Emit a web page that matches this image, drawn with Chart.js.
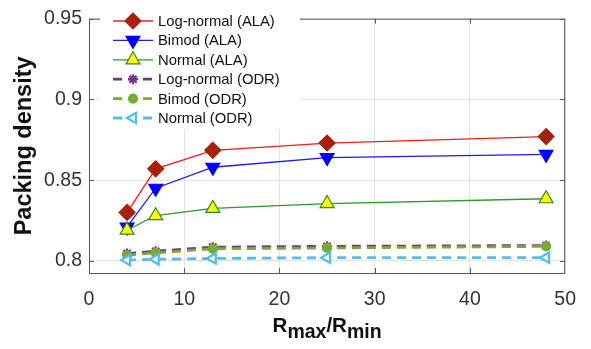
<!DOCTYPE html>
<html>
<head>
<meta charset="utf-8">
<script src="https://cdn.jsdelivr.net/npm/chart.js@4.4.0/dist/chart.umd.min.js"></script>
<style>
  html, body { margin: 0; padding: 0; background: #fff; }
</style>
</head>
<body>
<canvas id="myChart" width="591" height="349"></canvas>
<script>
// R_max / R_min values
const ratios = [4, 7, 13, 25, 48];

// packing density per series
const logNormalAla = [0.830, 0.857, 0.8685, 0.873, 0.877];
const bimodAla     = [0.821, 0.845, 0.858, 0.864, 0.866];
const normalAla    = [0.819, 0.828, 0.8325, 0.8355, 0.8385];
const logNormalOdr = [0.8045, 0.806, 0.8085, 0.809, 0.8095];
const bimodOdr     = [0.8035, 0.805, 0.8075, 0.808, 0.809];
const normalOdr    = [0.8005, 0.801, 0.8015, 0.802, 0.802];

const xTicks = [0, 10, 20, 30, 40, 50];
const yTicks = [0.8, 0.85, 0.9, 0.95];

const labels = ['Log-normal (ALA)', 'Bimod (ALA)', 'Normal (ALA)',
                'Log-normal (ODR)', 'Bimod (ODR)', 'Normal (ODR)'];

const FONT = '"Liberation Sans", Arial, sans-serif';
const toPoints = vals => ratios.map((r, i) => ({ x: r, y: vals[i] }));

function serie(i, vals, line, fill, border, style, radius, rot, dashed) {
    return {
        label: labels[i],
        data: toPoints(vals),
        order: 10 - i, // later series drawn on top, like matlab
        borderColor: line,
        borderWidth: dashed ? 2.8 : 1.3,
        borderDash: dashed ? [9, 6] : [],
        pointStyle: style,
        pointRadius: radius,
        pointRotation: rot,
        pointBackgroundColor: fill,
        pointBorderColor: border,
        pointBorderWidth: dashed ? 2.2 : 1.2,
        fill: false,
        tension: 0
    };
}

const datasets = [
    serie(0, logNormalAla, '#ff1a1a', '#a8200e', '#a8200e', 'rectRot', 8, 0, false),
    serie(1, bimodAla, '#1a1aff', '#0000ff', '#0000ff', 'triangle', 8, 180, false),
    serie(2, normalAla, '#2a9a2a', '#ffff00', '#2a8a1a', 'triangle', 8, 0, false),
    serie(3, logNormalOdr, '#7e2f8e', '#7e2f8e', '#7e2f8e', 'star', 5, 0, true),
    serie(4, bimodOdr, '#77ac30', '#77ac30', '#77ac30', 'circle', 4, 0, true),
    serie(5, normalOdr, '#4dbeee', '#ffffff', '#4dbeee', 'triangle', 6, -90, true)
];

// frame, inner ticks, legend and x title with subscripts
const extras = {
    id: 'extras',
    afterDatasetsDraw(chart) {
        const c = chart.ctx;
        const a = chart.chartArea;
        const xs = chart.scales.x, ys = chart.scales.y;
        c.save();
        c.strokeStyle = '#5a5a5a';
        c.lineWidth = 1;
        c.setLineDash([]);
        c.strokeRect(a.left + 0.5, a.top + 0.5, a.right - a.left - 1, a.bottom - a.top);
        c.beginPath();
        xTicks.slice(1, -1).forEach(v => {
            const px = Math.round(xs.getPixelForValue(v)) + 0.5;
            c.moveTo(px, a.bottom); c.lineTo(px, a.bottom - 5);
            c.moveTo(px, a.top); c.lineTo(px, a.top + 5);
        });
        yTicks.forEach(v => {
            const py = Math.round(ys.getPixelForValue(v)) + 0.5;
            c.moveTo(a.left, py); c.lineTo(a.left + 5, py);
            c.moveTo(a.right, py); c.lineTo(a.right - 5, py);
        });
        c.stroke();

        // legend
        c.fillStyle = '#fff';
        c.fillRect(100, 7, 200, 122);
        c.font = '14.8px ' + FONT;
        c.textBaseline = 'middle';
        chart.data.datasets.forEach((ds, i) => {
            const y = 21 + i * 19.4;
            c.strokeStyle = ds.borderColor;
            c.lineWidth = ds.borderWidth;
            c.setLineDash(ds.borderDash);
            c.beginPath();
            c.moveTo(113, y);
            c.lineTo(153, y);
            c.stroke();
            c.setLineDash([]);
            c.fillStyle = ds.pointBackgroundColor;
            c.strokeStyle = ds.pointBorderColor;
            c.lineWidth = ds.pointBorderWidth;
            Chart.helpers.drawPoint(c, {
                pointStyle: ds.pointStyle,
                radius: ds.pointRadius,
                rotation: ds.pointRotation,
                borderWidth: ds.pointBorderWidth
            }, 133, y);
            c.fillStyle = '#111';
            c.fillText(ds.label, 158, y + 1);
        });

        // x axis title R_max/R_min
        const big = 'bold 20.5px ' + FONT;
        const small = 'bold 19.5px ' + FONT;
        const parts = [['R', big, 0], ['max', small, 6], ['/R', big, 0], ['min', small, 6]];
        let total = 0;
        parts.forEach(p => { c.font = p[1]; total += c.measureText(p[0]).width; });
        let x = (a.left + a.right) / 2 - total / 2;
        c.fillStyle = '#111';
        c.textBaseline = 'alphabetic';
        parts.forEach(p => {
            c.font = p[1];
            c.fillText(p[0], x, 332 + p[2]);
            x += c.measureText(p[0]).width;
        });
        c.restore();
    }
};

const ctx = document.getElementById('myChart').getContext('2d');
const chart = new Chart(ctx, {
    type: 'line',
    data: { datasets: datasets },
    plugins: [extras],
    options: {
        responsive: false,
        animation: false,
        layout: { padding: { top: 16, right: 21, left: 0, bottom: 0 } },
        plugins: {
            legend: { display: false },
            tooltip: { enabled: false }
        },
        scales: {
            x: {
                type: 'linear',
                min: 0,
                max: 50,
                afterBuildTicks: s => { s.ticks = xTicks.map(v => ({ value: v })); },
                afterFit: s => { s.height = 76; },
                grid: { color: '#e3e3e3', drawTicks: false },
                border: { display: false },
                ticks: {
                    padding: 15,
                    color: '#333',
                    font: { family: FONT, size: 19.5 }
                }
            },
            y: {
                min: 0.7925,
                max: 0.95,
                afterBuildTicks: s => { s.ticks = yTicks.map(v => ({ value: v })); },
                afterFit: s => { s.width = 89; },
                grid: { color: '#e3e3e3', drawTicks: false },
                border: { display: false },
                ticks: {
                    padding: 7,
                    color: '#333',
                    font: { family: FONT, size: 19.5 },
                    callback: v => String(+v.toFixed(2))
                },
                title: {
                    display: true,
                    text: 'Packing density',
                    color: '#111',
                    padding: { top: 10, bottom: 0 },
                    font: { family: FONT, size: 23.5, weight: 'bold' }
                }
            }
        }
    }
});
</script>
</body>
</html>
